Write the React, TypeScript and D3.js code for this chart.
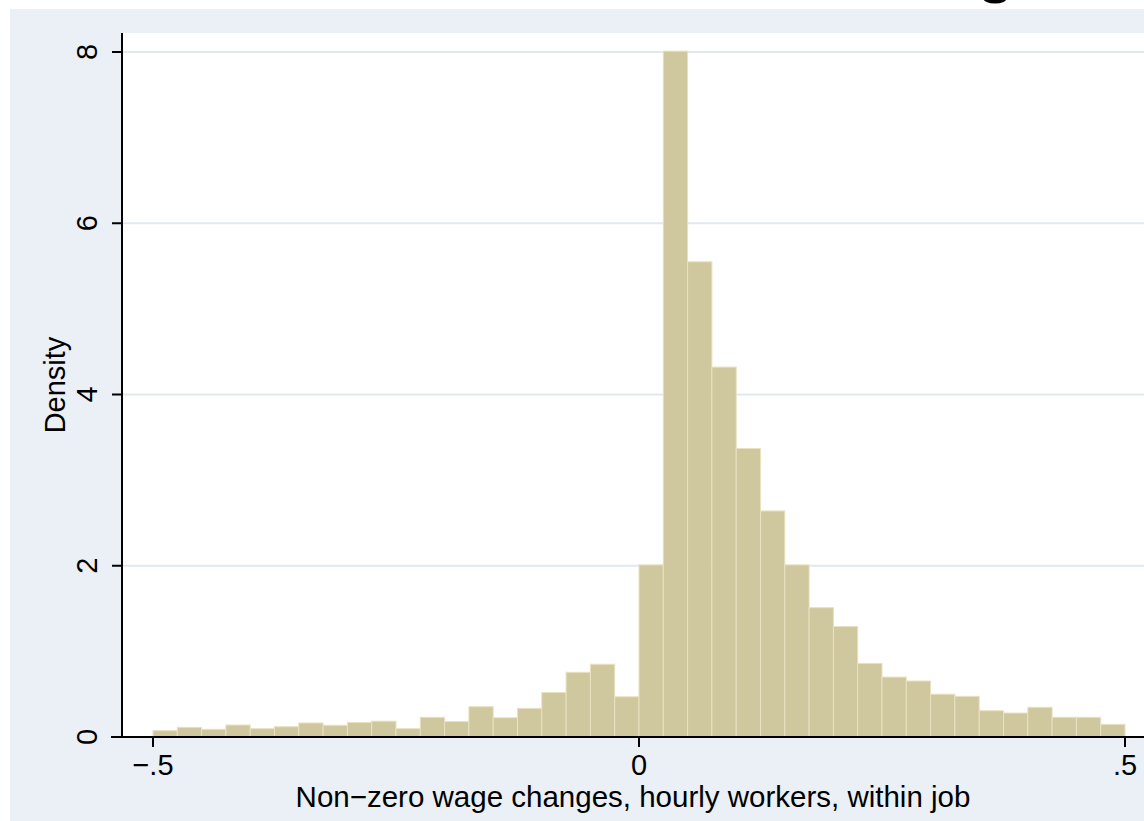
import React from "react";
import * as d3 from "d3";

const binStart = -0.5;
const binWidth = 0.025;
const densities = [
  0.074, 0.113, 0.09, 0.14, 0.097, 0.12, 0.164, 0.137, 0.17, 0.185,
  0.097, 0.23, 0.18, 0.354, 0.225, 0.335, 0.52, 0.756, 0.85, 0.47,
  2.01, 8.01, 5.55, 4.32, 3.37, 2.64, 2.01, 1.51, 1.29, 0.86,
  0.70, 0.654, 0.50, 0.475, 0.307, 0.28, 0.347, 0.23, 0.23, 0.148,
];
const xTicks = [-0.5, 0, 0.5];
const xTickLabels = ["\u2212.5", "0", ".5"];
const yTicks = [0, 2, 4, 6, 8];
const xTitle = "Non\u2212zero wage changes, hourly workers, within job";
const yTitle = "Density";

export default function App() {
  const W = 1144, H = 821;
  const x = d3.scaleLinear().domain([-0.5, 0.5]).range([153, 1125]);
  const y = d3.scaleLinear().domain([0, 8]).range([737, 52]);
  const font = "'Liberation Sans', Arial, sans-serif";
  const plotLeft = 122, plotTop = 33, plotBottom = 737;
  return (
    <svg width={W} height={H} style={{ position: "absolute", left: 0, top: 0 }}>
      <rect x={0} y={0} width={W} height={H} fill="#ffffff" />
      <rect x={10} y={9} width={W - 10} height={H - 9} fill="#eaf0f5" />
      <rect x={plotLeft} y={plotTop} width={W - plotLeft} height={plotBottom - plotTop} fill="#ffffff" />
      <ellipse cx={995} cy={-2} rx={12} ry={5.5} fill="#000" />
      {yTicks.filter((t) => t > 0).map((t) => (
        <line key={"g" + t} x1={plotLeft} x2={W} y1={y(t)} y2={y(t)} stroke="#e1e9f0" strokeWidth={2} />
      ))}
      {densities.map((d, i) => {
        const x0 = binStart + i * binWidth;
        return (
          <rect
            key={i}
            x={x(x0)}
            y={y(d)}
            width={x(x0 + binWidth) - x(x0)}
            height={y(0) - y(d)}
            fill="#cfc79e"
            stroke="#e9e1c0"
            strokeWidth={1}
          />
        );
      })}
      <line x1={plotLeft} x2={plotLeft} y1={plotTop} y2={plotBottom} stroke="#000" strokeWidth={2} />
      <line x1={111} x2={W} y1={plotBottom} y2={plotBottom} stroke="#000" strokeWidth={2} />
      {xTicks.map((t, i) => (
        <g key={"x" + t}>
          <line x1={x(t)} x2={x(t)} y1={plotBottom} y2={plotBottom + 10} stroke="#000" strokeWidth={2} />
          <text x={x(t)} y={775} textAnchor="middle" fontFamily={font} fontSize={29} fill="#000">
            {xTickLabels[i]}
          </text>
        </g>
      ))}
      {yTicks.map((t) => (
        <g key={"y" + t}>
          <line x1={plotLeft - 10} x2={plotLeft} y1={y(t)} y2={y(t)} stroke="#000" strokeWidth={2} />
          <text
            transform={`translate(97,${y(t)}) rotate(-90)`}
            textAnchor="middle"
            fontFamily={font}
            fontSize={29}
            fill="#000"
          >
            {t}
          </text>
        </g>
      ))}
      <text x={633} y={807} textAnchor="middle" fontFamily={font} fontSize={29.5} fill="#000">
        {xTitle}
      </text>
      <text
        transform={`translate(65,385) rotate(-90)`}
        textAnchor="middle"
        fontFamily={font}
        fontSize={29}
        fill="#000"
      >
        {yTitle}
      </text>
    </svg>
  );
}
